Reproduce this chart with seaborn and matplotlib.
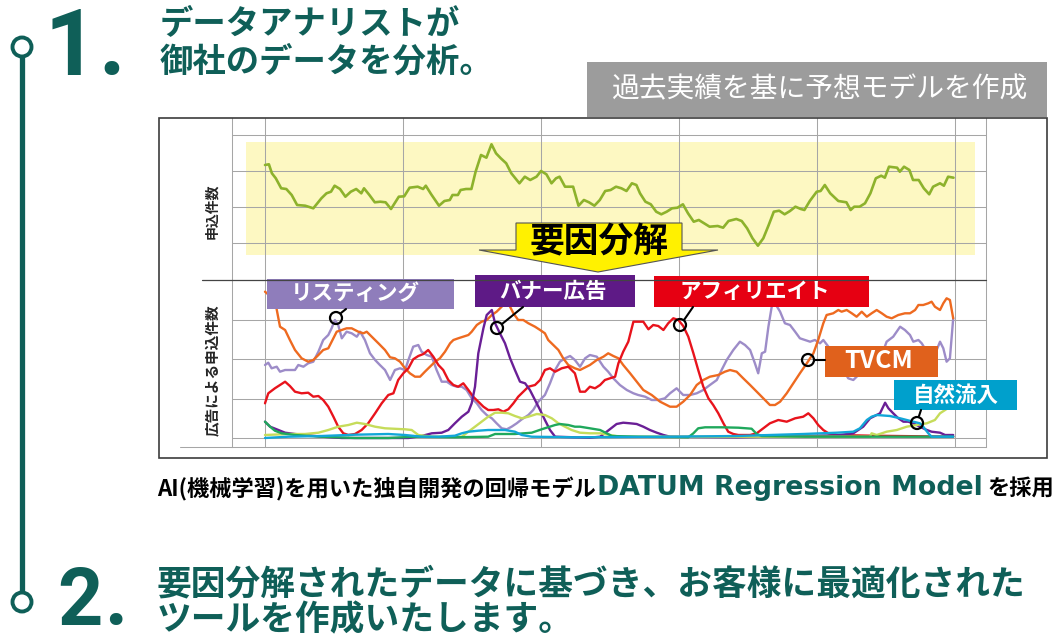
"""
DATUM regression model infographic: total applications and per-channel breakdown
"""
import matplotlib
matplotlib.use("Agg")
import matplotlib.pyplot as plt
from matplotlib.patches import Rectangle, Circle, Polygon
import pandas as pd
import seaborn as sns

# total applications (top panel)
app_day = [0, 1.3, 2.3, 3.6, 5.4, 7.1, 8.9, 10.7, 13.4, 16.1, 18.8, 20.5, 22.0, 23.2, 25.0, 26.8, 28.6, 30.4, 32.1, 33.0,
           34.8, 36.6, 38.4, 40.2, 42.0, 44.6, 46.4, 48.2, 50.9, 52.7, 53.6, 55.4, 58.0, 59.8, 61.6, 62.5, 64.3, 65.2, 67.0, 68.8,
           70.2, 72.0, 73.8, 75.5, 77.0, 78.6, 80.4, 82.1, 84.8, 86.6, 88.4, 90.5, 92.0, 93.8, 95.5, 97.0, 98.2, 100.0, 102.7, 104.5,
           106.3, 108.0, 109.8, 111.6, 113.4, 115.2, 117.0, 118.8, 120.5, 122.3, 123.8, 125.0, 126.8, 128.6, 130.4, 132.1, 133.9, 135.7, 137.5, 139.3,
           141.0, 142.9, 144.6, 146.4, 148.2, 150.9, 152.7, 154.5, 157.1, 158.9, 160.7, 162.5, 164.3, 166.1, 167.9, 169.6, 171.4, 173.2, 175.0, 176.8,
           178.6, 179.8, 181.6, 183.9, 185.2, 186.6, 188.4, 191.1, 193.8, 195.2, 196.4, 198.2, 200.0, 201.8, 203.6, 205.4, 206.6, 208.0, 210.7, 211.6,
           213.0, 214.8, 216.0, 217.9, 219.6, 221.4, 222.7, 225.0, 226.3, 227.7, 229.5]
app_val = [178, 178.7, 169.7, 164.7, 154.7, 154, 148, 138, 137.3, 134.7, 144.7, 149.7, 151.3, 157.3, 154, 146.3, 151.3, 154, 149.7, 154.7,
           148, 140.7, 141.3, 140.7, 134, 146.3, 146.7, 155.3, 156.3, 154, 157.3, 148.7, 137.3, 142, 143, 148, 148, 153, 154, 154,
           171.3, 188, 185.3, 198.7, 189.7, 184.7, 179.7, 169.7, 159.7, 166.3, 163, 166.3, 172, 168.7, 159.7, 164.7, 166.3, 156.3, 156.3, 137.3,
           143, 140.7, 137.3, 143, 152, 153, 156.3, 154.7, 152, 159.7, 158, 149.7, 141.3, 138.7, 131.3, 128.7, 131.3, 134.7, 135.3, 138.7,
           129.7, 121.3, 123, 119.7, 116.3, 117, 115.3, 122, 124, 122, 114.7, 104.7, 97.3, 104.7, 118, 131.3, 132.3, 128.7, 132, 136.3,
           134, 133, 142, 151.3, 152, 158, 149.7, 142, 140.7, 133, 136.3, 136.3, 139.7, 149.7, 164.7, 167.3, 165.3, 176.3, 175.3, 171.3,
           176.3, 173, 163, 163, 154.7, 148.7, 156.3, 159.7, 157.3, 166.3, 165.3]

# applications by channel (lower panel)
listing_day = [0, 1.1, 2.2, 3.9, 5.0, 6.7, 10.0, 11.1, 12.8, 14.4, 16.1, 17.8, 19.4, 21.1, 22.2, 23.3, 24.4, 25.6, 27.2, 28.9,
               30.6, 31.7, 33.3, 35.0, 36.7, 38.3, 40.0, 41.7, 43.3, 45.0, 46.7, 47.8, 49.4, 51.1, 52.2, 53.9, 55.6, 57.2, 58.9, 60.6,
               62.2, 63.9, 65.6, 67.2, 68.9, 70.6, 72.2, 73.9, 75.6, 77.2, 78.9, 80.6, 82.2, 83.9, 85.6, 87.8, 89.4, 91.1, 93.3, 95.0,
               96.7, 98.3, 100.0, 101.7, 103.3, 105.0, 106.7, 108.3, 110.6, 112.8, 114.4, 116.1, 118.3, 120.6, 122.8, 124.4, 126.7, 128.9, 131.1, 133.3,
               135.0, 137.2, 139.4, 141.7, 143.9, 146.1, 148.3, 150.6, 152.2, 153.9, 156.1, 158.3, 160.0, 161.7, 163.3, 164.4, 165.6, 166.7, 167.8, 168.9,
               170.0, 171.7, 173.3, 175.0, 176.7, 178.3, 180.0, 181.7, 183.3, 185.0, 186.1, 187.8, 189.4, 191.1, 192.8, 194.4, 196.1, 197.8, 199.4, 201.7,
               203.9, 205.6, 207.2, 209.4, 211.7, 213.3, 215.0, 216.1, 217.8, 218.9, 220.6, 222.2, 223.9, 225.0, 226.1, 227.2, 228.3, 229.4]
listing_val = [73, 75.3, 69.7, 71.3, 66.3, 68, 68, 73, 71.3, 74.7, 76.3, 86.3, 98, 103, 109.7, 118, 113, 99.7, 106.3, 104.7,
               101.3, 106.3, 98, 84.7, 78, 73, 68, 58, 68, 69.7, 68, 78, 91.3, 93, 86.3, 83, 81.3, 68, 56.3, 56.3,
               53, 51.3, 51.3, 48, 39.7, 34.7, 28, 23, 19.7, 14.7, 9.7, 8.7, 11.3, 14.7, 18.7, 23, 28, 36.3, 43, 54.7,
               68, 76.3, 79.7, 82, 78, 71.3, 79.7, 83, 81.3, 71.3, 66.3, 59.7, 53, 48, 44.7, 43, 41.3, 38, 38, 39.7,
               44.7, 49.7, 43, 43, 44.7, 48, 53, 58, 68, 78, 88, 96.3, 93, 88, 74.7, 64.7, 84.7, 86.3, 111.3, 131.3,
               134.7, 126.3, 114.7, 113, 106.3, 99.7, 98, 96.3, 98, 94.7, 98, 91.3, 86.3, 73, 68, 59.7, 58, 63, 64.7, 66.3,
               71.3, 83, 96.3, 101.3, 111.3, 108, 103, 96.3, 98, 94.7, 86.3, 84.7, 88, 96.3, 89.7, 76.3, 79.7, 119.7]

tvcm_day = [0, 3.3, 5.0, 6.7, 8.3, 10.0, 12.2, 14.4, 16.1, 17.8, 19.4, 21.1, 22.2, 23.9, 25.6, 27.2, 28.9, 31.1, 32.8, 33.9,
            35.6, 37.8, 40.0, 41.7, 43.3, 45.0, 46.7, 48.3, 50.0, 51.7, 53.3, 55.0, 56.7, 58.3, 60.0, 61.7, 62.8, 64.4, 66.1, 67.8,
            68.9, 70.6, 72.2, 73.9, 75.6, 77.2, 78.9, 80.0, 81.1, 82.8, 84.4, 86.1, 87.8, 90.0, 91.7, 93.3, 94.4, 96.1, 97.8, 99.4,
            101.1, 103.3, 105.0, 108.3, 110.6, 112.8, 114.4, 116.1, 117.8, 119.4, 121.7, 123.9, 126.1, 128.9, 131.7, 135.0, 137.2, 139.4, 141.7, 143.9,
            146.1, 148.3, 151.1, 153.3, 155.0, 157.2, 159.4, 161.7, 163.9, 166.1, 168.3, 170.0, 171.7, 173.9, 176.1, 178.3, 180.6, 182.8, 184.4, 186.1,
            187.2, 189.4, 191.1, 192.2, 193.9, 195.6, 197.2, 198.9, 200.6, 202.2, 203.9, 205.6, 207.2, 208.9, 211.1, 213.3, 215.0, 216.7, 217.8, 219.4,
            221.1, 222.2, 223.3, 225.0, 226.1, 227.2, 228.3, 229.4]
tvcm_val = [146.3, 138, 111.3, 108, 98, 88, 79.7, 76.3, 78, 83, 88, 89.7, 96.3, 106.3, 108, 109.7, 109.7, 106.3, 104.7, 106.3,
            101.3, 94.7, 88, 80.7, 79.7, 76.3, 69.7, 64.7, 61.3, 61.3, 66.3, 71.3, 76.3, 79.7, 86.3, 94.7, 98, 99.7, 101.3, 103,
            106.3, 113, 116.3, 118, 123, 126.3, 131.3, 138, 134.7, 124.7, 118, 118, 114.7, 111.3, 108, 104.7, 98, 93, 88, 79.7,
            73, 69.7, 68, 73, 78, 81.3, 84.7, 82, 79.7, 73, 64.7, 56.3, 48, 43, 36.3, 31.3, 31.3, 36.3, 43, 53,
            58, 61.3, 63, 66.3, 68, 66.3, 59.7, 53, 46.3, 39.7, 33, 33, 36.3, 44.7, 54.7, 64.7, 74.7, 84.7, 98, 114.7,
            123, 124.7, 128, 126.3, 128, 124.7, 121.3, 126.3, 121.3, 124.7, 128, 124.7, 121.3, 119.7, 123, 124.7, 124.7, 128, 133, 133,
            134.7, 136.3, 131.3, 128, 134.7, 139.7, 138, 119.7]

affiliate_day = [0, 1.1, 3.3, 5.0, 6.7, 8.3, 10.0, 12.2, 14.4, 16.1, 17.8, 19.4, 21.1, 22.8, 24.4, 26.1, 27.8, 30.0, 32.2, 34.4,
                 36.7, 38.9, 41.1, 42.8, 44.4, 46.1, 47.8, 49.4, 51.1, 52.8, 54.4, 56.1, 57.8, 59.4, 61.1, 62.8, 64.4, 66.1, 67.8, 69.4,
                 71.1, 72.8, 74.4, 76.1, 77.8, 79.4, 81.1, 82.8, 84.4, 86.1, 87.8, 90.0, 91.7, 93.3, 95.0, 96.7, 98.9, 101.1, 103.3, 105.0,
                 106.7, 108.3, 110.0, 111.7, 113.3, 115.0, 116.7, 117.8, 119.4, 121.1, 122.8, 124.4, 126.1, 127.8, 129.4, 131.1, 132.8, 134.4, 136.1, 137.8,
                 139.4, 141.1, 142.8, 144.4, 146.1, 147.8, 149.4, 151.1, 152.8, 154.4, 156.1, 157.8, 161.7, 163.9, 166.1, 168.3, 171.1, 173.9, 176.7, 179.4,
                 181.1, 182.8, 184.4, 186.1, 187.8, 190.6, 201.7, 229.4]
affiliate_val = [34.7, 44.7, 49.7, 53, 56.3, 52, 46.3, 44.7, 45.3, 41.3, 42, 38, 31.3, 21.3, 11.3, 4.7, 3, 4, 8, 14.7,
                 24.7, 34.7, 43, 44.7, 58, 64.7, 69.7, 78.7, 82, 84, 88, 81.3, 73, 68, 58, 53, 51.3, 54.7, 48, 41.3,
                 36.3, 31.3, 28, 28, 28.7, 26.3, 28.7, 34.7, 41.3, 46.3, 51.3, 53, 58, 68, 69.7, 66.3, 69.7, 71.3, 64.7, 46.3,
                 46.3, 51.3, 49.7, 53, 58, 59.7, 61.3, 74.7, 86.3, 96.3, 116.3, 116.3, 116.3, 108.7, 113, 112, 108, 114.7, 119.7, 118,
                 112, 101.3, 84.7, 68, 51.3, 39.7, 33, 24.7, 14.7, 6.3, 4, 3, 3, 4.7, 9.7, 14.7, 18, 16.3, 19.7, 21.3,
                 24.7, 19.7, 13, 8, 4.7, 3, 2.3, 1.3]

banner_day = [0, 1.7, 3.9, 6.7, 10.0, 13.3, 18.9, 25.6, 41.1, 47.8, 52.2, 55.6, 58.9, 61.1, 63.3, 65.6, 67.8, 68.9, 70.0, 71.1,
              72.8, 73.9, 75.6, 76.7, 78.3, 80.0, 81.7, 83.3, 85.0, 86.7, 88.3, 90.0, 91.7, 93.3, 95.0, 96.7, 103.3, 108.3, 111.7, 113.9,
              117.2, 119.4, 121.7, 123.9, 126.1, 128.3, 130.6, 132.8, 135.0, 157.2, 179.4, 190.6, 196.1, 199.4, 201.7, 205.0, 206.7, 207.8, 209.4, 211.1,
              212.8, 214.4, 216.1, 218.3, 220.6, 222.2, 225.0, 226.7, 229.4]
banner_val = [16.3, 11.3, 8.7, 5.3, 4, 3, 1.3, 0, 0, 0, 2, 4.7, 5.3, 8, 14.7, 21.3, 26.3, 34.7, 51.3, 84.7,
              109.7, 123, 128, 114.7, 104.7, 94.7, 79.7, 68, 56.3, 54.7, 48, 38, 28, 18, 8, 1.3, 0.7, 0.3, 1.3, 6.3,
              14, 15.3, 14.7, 14, 11.3, 8, 5.3, 3, 1.3, 0.7, 2, 2.7, 4.7, 11.3, 19.7, 24.7, 35.3, 29.7, 24.7, 19.7,
              16.3, 16.3, 14.7, 11.3, 8, 6.3, 5.3, 3, 3]

other_a_day = [0, 7.8, 13.3, 17.8, 21.1, 24.4, 27.8, 30.6, 33.3, 36.7, 40.0, 46.7, 48.9, 51.1, 55.6, 65.6, 67.8, 70.0, 72.2, 74.4,
               76.7, 78.9, 81.1, 83.3, 85.6, 87.8, 90.6, 93.3, 95.6, 97.8, 100.0, 102.2, 105.0, 108.3, 111.7, 115.0, 118.3, 201.7, 202.2, 203.9,
               207.2, 210.6, 213.9, 217.2, 220.6, 223.3, 225.0, 226.7, 228.3, 228.9]
other_a_val = [3, 4, 4, 5.3, 8, 11.3, 13, 15.3, 14, 11.3, 9.7, 8.7, 8, 3, 1.3, 1.3, 6.3, 11.3, 16.3, 21.3,
               25.3, 25.3, 24.7, 22, 19.7, 21.3, 24, 23, 19.7, 14.7, 11.3, 8, 5.3, 4.7, 4.7, 3, 1.3, 1.3, 4.7, 3,
               6.3, 8, 11.3, 13, 14.7, 18, 24.7, 28, 31.3, 34.7]

other_b_day = [0, 1.7, 3.3, 5.6, 10.0, 18.9, 30.0, 41.1, 50.0, 63.3, 74.4, 76.7, 83.3, 88.9, 92.2, 96.7, 98.3, 101.1, 103.3, 105.0,
               108.3, 111.7, 113.9, 115.6, 124.4, 141.1, 142.8, 144.4, 146.7, 152.2, 157.8, 162.2, 163.9, 165.6, 180.0, 229.4]
other_b_val = [16.3, 11.3, 7.3, 4.7, 3, 1.3, 0, 0, 1.3, 0.7, 1.3, 4, 4, 5.3, 8.7, 13, 14, 13, 11.3, 11.3,
               9.7, 8, 4.7, 2, 1.3, 0.7, 4.7, 9.7, 10.7, 10.7, 10.3, 9.3, 4, 2, 1.3, 1.3]

natural_day = [0, 7.8, 18.9, 30.0, 41.1, 46.7, 52.2, 57.8, 63.3, 65.6, 67.8, 71.1, 74.4, 80.0, 83.3, 85.6, 88.9, 103.3, 135.0, 157.2,
               179.4, 190.6, 196.1, 198.3, 200.6, 202.2, 203.9, 208.3, 211.7, 213.9, 216.1, 218.3, 219.4, 221.1, 222.2, 229.4]
natural_val = [0, 1.3, 2, 3.3, 4, 3, 1.3, 1.3, 2.3, 4.7, 6.3, 7.3, 8, 8, 6.3, 3, 1.3, 0.7, 1.3, 2,
               4, 5.3, 6.3, 9.7, 18, 21.3, 23, 22, 19.7, 18, 16.3, 14.7, 11.3, 4.7, 1.3, 1.3]

grid_days = [0, 46, 92, 138, 184, 230]
top_ticks = [100, 136, 172, 208]
low_ticks = [0, 39.5, 79, 118.5]

TEAL = "#0f5f58"
GRID = "#a6a6a6"

channel_colors = {
    "リスティング": "#9d8cc8",
    "TVCM": "#ee6a20",
    "アフィリエイト": "#e8131c",
    "バナー広告": "#6a1f96",
    "その他A": "#c6dc5a",
    "その他B": "#1fa85c",
    "自然流入": "#12a6d8",
}
channel_data = {
    "リスティング": (listing_day, listing_val),
    "TVCM": (tvcm_day, tvcm_val),
    "アフィリエイト": (affiliate_day, affiliate_val),
    "バナー広告": (banner_day, banner_val),
    "その他A": (other_a_day, other_a_val),
    "その他B": (other_b_day, other_b_val),
    "自然流入": (natural_day, natural_val),
}

sns.set_theme(style="white")
plt.rcParams['font.family'] = ['Noto Sans CJK JP', 'DejaVu Sans']

W, H = 1054, 641
fig = plt.figure(figsize=(W / 100, H / 100), dpi=100)
fig.patch.set_facecolor("white")


def px_axes(x0, y0, x1, y1, **kw):
    return fig.add_axes([x0 / W, 1 - y1 / H, (x1 - x0) / W, (y1 - y0) / H], **kw)


def style_panel(ax, yticks):
    ax.set_xticks(grid_days)
    ax.set_yticks(yticks)
    ax.tick_params(axis="x", length=0, labelbottom=False)
    ax.tick_params(axis="y", length=3.6, width=0.75, color=GRID, labelleft=False, direction="out")
    ax.grid(True, color=GRID, lw=0.75)
    ax.set_axisbelow(True)
    ax.set_xlabel("")
    ax.set_ylabel("")
    for side in ["left", "right", "bottom"]:
        ax.spines[side].set_color(GRID)
        ax.spines[side].set_linewidth(0.75)
    ax.spines["top"].set_visible(False)


# top panel
ax_top = px_axes(232, 118, 986, 280)
ax_top.axhspan(88, 201, xmin=0.0186, xmax=0.9854, color="#fdf8c2", zorder=0.2, lw=0)
sns.lineplot(x=app_day, y=app_val, color="#8db22c", linewidth=1.9, ax=ax_top)
ax_top.set_xlim(-11, 240.33)
ax_top.set_ylim(63, 225)
style_panel(ax_top, top_ticks)
ax_top.spines["bottom"].set_visible(False)

# lower panel
frames = [pd.DataFrame({"day": d, "count": v, "channel": name}) for name, (d, v) in channel_data.items()]
df = pd.concat(frames, ignore_index=True)
ax_low = px_axes(232, 280, 986, 447)
sns.lineplot(data=df, x="day", y="count", hue="channel", hue_order=list(channel_data.keys()),
             palette=channel_colors, estimator=None, sort=False, legend=False, linewidth=1.7, ax=ax_low)
ax_low.set_xlim(-11, 240.33)
ax_low.set_ylim(-9, 158)
style_panel(ax_low, low_ticks)

# overlay in pixel coordinates for the infographic decorations
ov = fig.add_axes([0, 0, 1, 1], zorder=5)
ov.set_xlim(0, W)
ov.set_ylim(H, 0)
ov.axis("off")

ov.add_patch(Rectangle((159, 118), 888, 340, fill=False, ec="#3c3c3c", lw=1.2))
ov.plot([202, 986], [280, 280], color="#444444", lw=0.9)
ov.plot([180, 232], [447, 447], color=GRID, lw=0.75)

ov.text(212, 211, "申込件数", rotation=90, ha="center", va="center", fontsize=10, fontweight="bold")
ov.text(212, 370, "広告による申込件数", rotation=90, ha="center", va="center", fontsize=10.5, fontweight="bold")

# grey caption box
ov.add_patch(Rectangle((587, 62), 460, 55, color="#9c9c9c", lw=0))
ov.text(820, 89, "過去実績を基に予想モデルを作成", ha="center", va="center", fontsize=20, color="white")

# 要因分解 arrow
ov.add_patch(Polygon([(516, 223), (682, 223), (682, 250), (718, 250), (598, 272), (479, 250), (516, 250)],
                     closed=True, fc="#fff100", ec="#555555", lw=0.8))
ov.text(599, 241, "要因分解", ha="center", va="center", fontsize=25, fontweight="bold", color="black")

# channel labels with pointers
labels = [
    ("リスティング", (267, 279, 454, 309), "#8f7dbb", 355, [(346, 309), (341, 313)], (336, 318)),
    ("バナー広告", (475, 275, 635, 307), "#5e1a86", 553, [(523, 307), (502, 324)], (497, 328)),
    ("アフィリエイト", (654, 276, 869, 307), "#e60012", 755, [(693, 307), (684, 320)], (680, 325)),
    ("TVCM", (825, 346, 938, 377), "#e0611c", 879, [(825, 360), (815, 360)], (808, 360)),
    ("自然流入", (894, 380, 1017, 410), "#00a0cc", 956, [(921, 410), (919, 416)], (917, 423)),
]
for text, (x0, y0, x1, y1), color, tx, seg, center in labels:
    ov.add_patch(Rectangle((x0, y0), x1 - x0, y1 - y0, color=color, lw=0))
    size = 18 if text == "TVCM" else 15.5
    ov.text(tx, (y0 + y1) / 2, text, ha="center", va="center", fontsize=size, fontweight="bold", color="white")
    ov.plot([seg[0][0], seg[1][0]], [seg[0][1], seg[1][1]], color="black", lw=1.5)
    ov.add_patch(Circle(center, 6, fill=False, ec="black", lw=1.6))

# timeline on the left
ov.plot([22, 22], [57, 592], color=TEAL, lw=3.8, solid_capstyle="butt")
ov.add_patch(Circle((22, 47), 9.5, fill=False, ec=TEAL, lw=2.8))
ov.add_patch(Circle((22, 602), 9.5, fill=False, ec=TEAL, lw=2.8))

# step numbers: digit and dot set apart as in the reference
num_font = ['Roboto', 'DejaVu Sans']
ov.text(97, 75, "1", ha="right", va="baseline", fontsize=66, fontweight="bold", color=TEAL, family=num_font)
ov.text(98, 75, ".", ha="left", va="baseline", fontsize=66, fontweight="bold", color=TEAL, family=num_font)
ov.text(103, 625, "2", ha="right", va="baseline", fontsize=57, fontweight="bold", color=TEAL, family=num_font)
ov.text(104, 625, ".", ha="left", va="baseline", fontsize=57, fontweight="bold", color=TEAL, family=num_font)

ov.text(160, 25, "データアナリストが", ha="left", va="center", fontsize=24, fontweight="bold", color=TEAL)
ov.text(160, 62, "御社のデータを分析。", ha="left", va="center", fontsize=24, fontweight="bold", color=TEAL)

ov.text(157, 496, "AI(機械学習)を用いた独自開発の回帰モデル", ha="left", va="baseline",
        fontsize=16, fontweight="bold", color="black")
ov.text(597, 495, "DATUM Regression Model", ha="left", va="baseline",
        fontsize=19.3, fontweight="bold", color=TEAL, family=['DejaVu Sans'])
ov.text(987, 496, "を採用", ha="left", va="baseline", fontsize=16, fontweight="bold", color="black")

ov.text(157, 584, "要因分解されたデータに基づき、お客様に最適化された", ha="left", va="center",
        fontsize=25, fontweight="bold", color=TEAL)
ov.text(157, 620, "ツールを作成いたします。", ha="left", va="center",
        fontsize=25, fontweight="bold", color=TEAL)

plt.savefig("out.png", dpi=100)
plt.close()
